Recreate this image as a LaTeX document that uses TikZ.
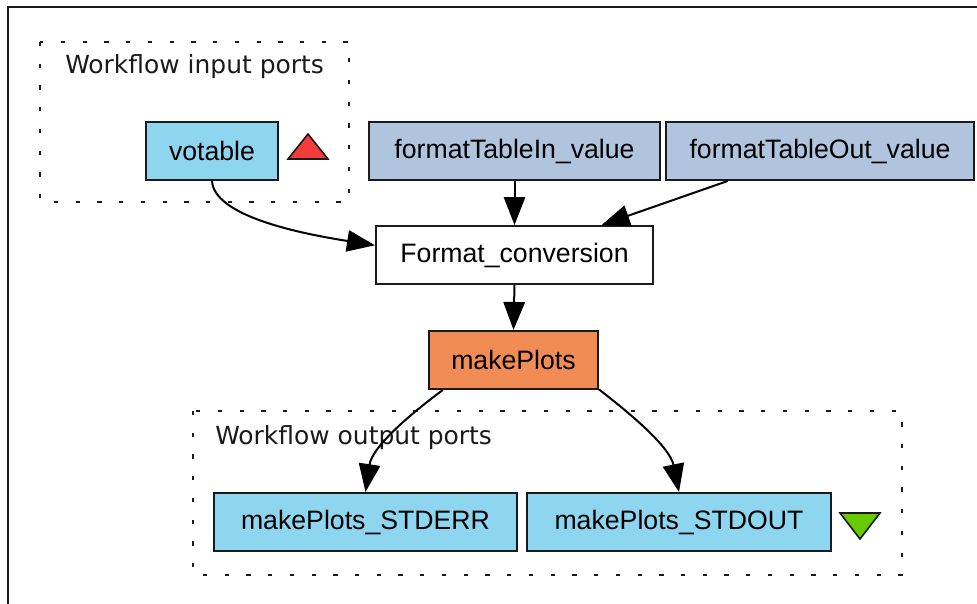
\documentclass[tikz,border=0pt]{standalone}
\usepackage{fontspec}
\setmainfont{Liberation Sans}
\newfontfamily\wfLabelFont{DejaVu Sans}
\usepackage{xcolor}
\usepackage{tikz}
\usetikzlibrary{arrows.meta}
\definecolor{wfPort}{HTML}{8ED6F0}
\definecolor{wfConst}{HTML}{B0C4DE}
\definecolor{wfTool}{HTML}{F28C55}
\definecolor{wfRed}{HTML}{F23B3B}
\definecolor{wfGreen}{HTML}{66CC00}
\definecolor{wfInk}{HTML}{1A1A1A}
\tikzset{
  wf diagram/.style={x=0.75pt, y=-0.75pt, font=\fontsize{20}{24}\selectfont,
    line join=miter},
  wf box/.style={draw=wfInk, line width=1.5pt, rectangle, inner sep=0pt,
    minimum height=43.5pt, text=black},
  wf port/.style={wf box, fill=wfPort},
  wf const/.style={wf box, fill=wfConst},
  wf tool/.style={wf box, fill=wfTool},
  wf plain/.style={wf box, fill=white},
  wf arrow/.style={-{Triangle[length=21pt, width=16pt]}, draw=black,
    line width=1.5pt},
  wf cluster/.style={draw=wfInk, line width=1.7pt, line cap=butt,
    dash pattern=on 3.2pt off 13.1pt},
  wf label/.style={font=\wfLabelFont\fontsize{18.7}{22}\selectfont,
    text=wfInk, anchor=west, inner sep=0pt},
  wf marker/.style={draw=wfInk, line width=1.2pt, line join=miter}
}
\begin{document}
\begin{tikzpicture}[wf diagram]
\useasboundingbox (0,0) rectangle (977,603);
\clip (0,0) rectangle (977,603);
\fill[white] (0,0) rectangle (977,603);
% frame, cut by the page on two sides
\draw[draw=wfInk, line width=1.5pt] (8,620) -- (8,7) -- (990,7);

% clusters
\draw[wf cluster] (40,42) rectangle (349,202);
\node[wf label] (inLabel) at (65,67) {Workflow input ports};
\draw[wf cluster] (193,411) rectangle (902,575);
\node[wf label] (outLabel) at (215,438) {Workflow output ports};

% nodes
\node[wf port, minimum width=99pt] (votable) at (212,151) {votable};
\node[wf const, minimum width=218.25pt] (fmtIn) at (514.5,151) {formatTableIn\_value};
\node[wf const, minimum width=231pt] (fmtOut) at (820,151) {formatTableOut\_value};
\node[wf plain, minimum width=207.75pt] (convert) at (514.5,255) {Format\_conversion};
\node[wf tool, minimum width=126.75pt] (plots) at (513.5,360) {makePlots};
\node[wf port, minimum width=227.25pt] (stderr) at (365.5,522) {makePlots\_STDERR};
\node[wf port, minimum width=228pt] (stdout) at (679,522) {makePlots\_STDOUT};

% port markers
\filldraw[wf marker, fill=wfRed] (288,159) -- (328,159) -- (308,134) -- cycle;
\filldraw[wf marker, fill=wfGreen] (840,513) -- (880,513) -- (860,539) -- cycle;

% links
\draw[wf arrow] (votable.south) .. controls (214,214) and (290,232) .. (convert.176);
\draw[wf arrow] (fmtIn.south) -- (convert.north);
\draw[wf arrow] (fmtOut.198) -- (convert.19);
\draw[wf arrow] (convert.south) -- (plots.north);
\draw[wf arrow] (plots.203) .. controls (405,418) and (372,448) .. (stderr.north);
\draw[wf arrow] (plots.-19) .. controls (636,418) and (670,448) .. (stdout.north);
\end{tikzpicture}
\end{document}
